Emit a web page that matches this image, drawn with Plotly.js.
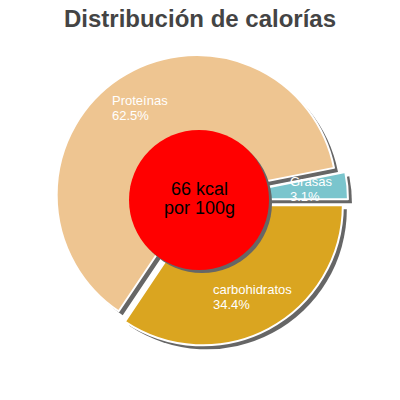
<!DOCTYPE html>
<html>
<head>
<meta charset="utf-8">
<script src="https://cdn.plot.ly/plotly-3.0.1.min.js"></script>
<style>
  html, body { margin: 0; padding: 0; background: #fff; }
  #chart { width: 400px; height: 400px; }
</style>
</head>
<body>
<div id="chart"></div>
<script>
// values
const categories = ['carbohidratos', 'Proteínas', 'Grasas'];
const percents = [34.4, 62.5, 3.1];
const energyKcal = 66;
const energyUnit = 'kcal';
const energyBasis = 'por 100g';
const chartTitle = 'Distribución de calorías';

// styles
const sliceColors = ['#DAA520', '#EEC591', '#7AC5CD'];
const slicePulls = [0.043, 0.043, 0.057];
const shadowColor = '#666';
const FONT = 'Liberation Sans, Arial, sans-serif';

const W = 400, H = 400;
const pieCx = 200, pieCy = 200, pieR = 140;
const holeCx = 199, holeCy = 200, holeR = 70;
const labelR = 110;

// domain (paper fraction) for a pie of radius r centred at (cx, cy) in px
function domainFor(cx, cy, r, maxPull, dx, dy) {
  const half = r * (1 + maxPull);
  return {
    x: [(cx + dx - half) / W, (cx + dx + half) / W],
    y: [1 - (cy + dy + half) / H, 1 - (cy + dy - half) / H],
  };
}

const maxPull = Math.max(...slicePulls);

const basePie = {
  type: 'pie',
  labels: categories,
  values: percents,
  sort: false,
  direction: 'clockwise',
  rotation: 90,
  pull: slicePulls,
  textinfo: 'none',
  textposition: 'none',
  hoverinfo: 'skip',
  showlegend: false,
};

const shadowPie = Object.assign({}, basePie, {
  marker: {colors: categories.map(() => shadowColor), line: {width: 0}},
  domain: domainFor(pieCx, pieCy, pieR, maxPull, 4, 4),
});

const mainPie = Object.assign({}, basePie, {
  marker: {colors: sliceColors, line: {color: '#fff', width: 2}},
  domain: domainFor(pieCx, pieCy, pieR, maxPull, 0, 0),
});

const centreBase = {
  type: 'pie',
  labels: ['energía'],
  values: [energyKcal],
  sort: false,
  textinfo: 'none',
  textposition: 'none',
  hoverinfo: 'skip',
  showlegend: false,
};

const centreShadow = Object.assign({}, centreBase, {
  marker: {colors: [shadowColor], line: {width: 0}},
  domain: domainFor(holeCx, holeCy, holeR, 0, 3, 3),
});

const centre = Object.assign({}, centreBase, {
  marker: {colors: ['#FF0000'], line: {width: 0}},
  domain: domainFor(holeCx, holeCy, holeR, 0, 0, 0),
});

const annotations = [];

// centre text, two tight lines
[`${energyKcal} ${energyUnit}`, energyBasis].forEach((line, i) => {
  annotations.push({
    xref: 'paper', yref: 'paper',
    x: holeCx / W, y: 1 - (holeCy - 11 + i * 19) / H,
    xanchor: 'center', yanchor: 'middle',
    showarrow: false, borderpad: 0,
    text: line,
    font: {family: FONT, size: 18, color: '#000'},
  });
});

// slice labels: block centred on the slice mid-angle, lines left-aligned
const LABEL_SIZE = 13;
const ctx = document.createElement('canvas').getContext('2d');
ctx.font = LABEL_SIZE + 'px ' + FONT;

const total = percents.reduce((a, b) => a + b, 0);
let cum = 0;
percents.forEach((p, i) => {
  const frac = p / total;
  const theta = -(cum + frac / 2) * 2 * Math.PI;
  cum += frac;
  const cx = pieCx + labelR * Math.cos(theta);
  const cy = pieCy - labelR * Math.sin(theta);
  const pctText = p.toFixed(1) + '%';
  const blockW = Math.max(ctx.measureText(categories[i]).width, ctx.measureText(pctText).width);
  const left = (cx - blockW / 2) / W;
  const common = {
    xref: 'paper', yref: 'paper', x: left, xanchor: 'left', yanchor: 'middle',
    showarrow: false, borderpad: 0,
    font: {family: FONT, size: LABEL_SIZE, color: '#fff'},
  };
  annotations.push(Object.assign({}, common, {text: categories[i], y: 1 - (cy - 7.5) / H}));
  annotations.push(Object.assign({}, common, {text: pctText, y: 1 - (cy + 7.5) / H}));
});

Plotly.newPlot('chart', [shadowPie, mainPie, centreShadow, centre], {
  width: W,
  height: H,
  margin: {l: 0, r: 0, t: 0, b: 0},
  paper_bgcolor: '#fff',
  title: {
    text: chartTitle,
    font: {family: FONT, size: 24, color: '#444', weight: 'bold'},
    x: 0.5, xanchor: 'center',
    y: 0.975, yanchor: 'top', yref: 'container',
  },
  annotations,
}, {staticPlot: true, displayModeBar: false});
</script>
</body>
</html>
